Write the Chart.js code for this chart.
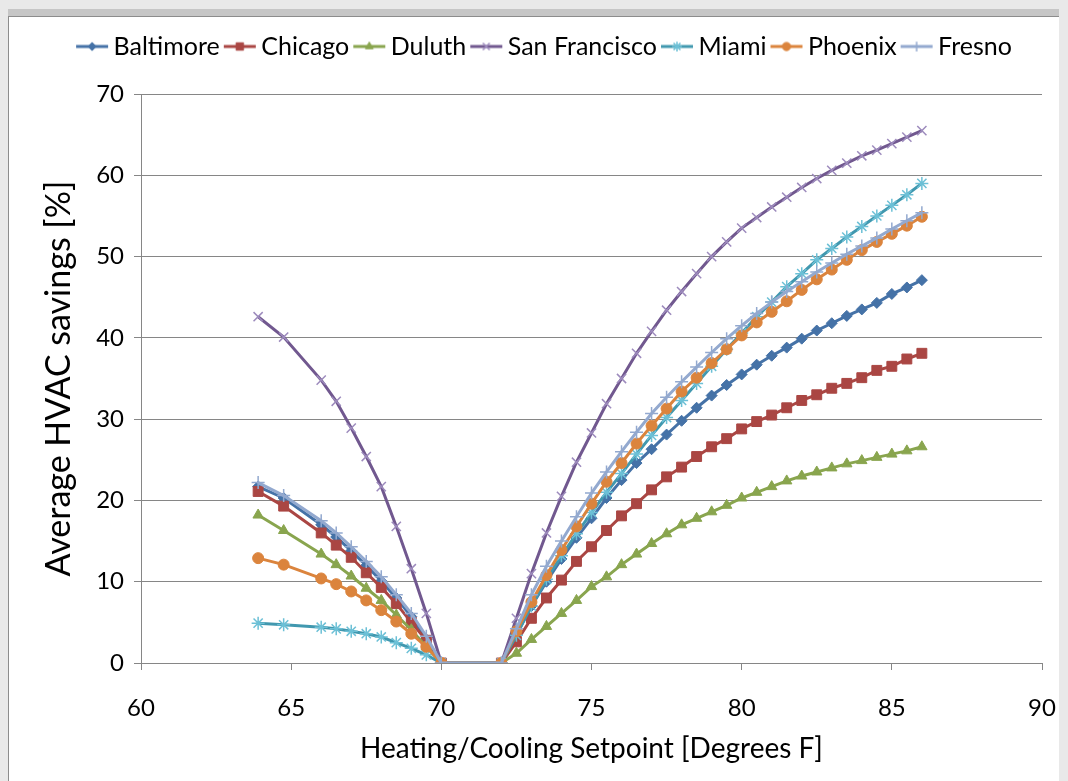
<!DOCTYPE html>
<html>
<head>
<meta charset="utf-8">
<script src="https://cdn.jsdelivr.net/npm/chart.js"></script>
<style>
  body { margin: 0; background: #e9e9e9; width: 1068px; height: 781px; overflow: hidden; }
  #panel {
    position: absolute; left: 8px; top: 16px; width: 1050px; height: 770px;
    background: #fff; border-left: 1px solid #8c8c8c; border-top: 1px solid #8c8c8c;
    box-shadow: 0 -7px 0 #c6c6c6;
  }
  #chart { display: block; }
</style>
</head>
<body>
<div id="panel"><canvas id="chart" width="1050" height="765"></canvas></div>
<script>
// setpoints (deg F) - heating side and cooling side
const heatX = [63.9, 64.75, 66, 66.5, 67, 67.5, 68, 68.5, 69, 69.5, 70];
const coolX = [72, 72.5, 73, 73.5, 74, 74.5, 75, 75.5, 76, 76.5, 77, 77.5, 78, 78.5, 79,
               79.5, 80, 80.5, 81, 81.5, 82, 82.5, 83, 83.5, 84, 84.5, 85, 85.5, 86];

const cities = ['Baltimore', 'Chicago', 'Duluth', 'San Francisco', 'Miami', 'Phoenix', 'Fresno'];

// average HVAC savings [%]
const baltimoreHeat = [21.7, 20.3, 17.0, 15.5, 13.8, 12.0, 10.1, 8.0, 5.7, 2.9, 0];
const baltimoreCool = [0, 3.5, 7.0, 10.0, 12.8, 15.4, 17.8, 20.3, 22.5, 24.6, 26.3, 28.1, 29.8, 31.4, 32.9,
                       34.2, 35.5, 36.7, 37.8, 38.8, 39.9, 40.9, 41.8, 42.7, 43.5, 44.3, 45.4, 46.2, 47.1];
const chicagoHeat = [21.1, 19.3, 16.0, 14.5, 13.0, 11.1, 9.3, 7.3, 5.0, 2.8, 0];
const chicagoCool = [0, 2.6, 5.5, 8.0, 10.2, 12.5, 14.3, 16.3, 18.1, 19.6, 21.3, 22.9, 24.1, 25.4, 26.6,
                     27.6, 28.8, 29.7, 30.5, 31.4, 32.3, 33.0, 33.8, 34.4, 35.1, 36.0, 36.5, 37.4, 38.1];
const duluthHeat = [18.2, 16.3, 13.4, 12.1, 10.7, 9.2, 7.7, 5.9, 4.1, 2.0, 0];
const duluthCool = [0, 1.2, 2.9, 4.5, 6.1, 7.7, 9.4, 10.6, 12.1, 13.4, 14.7, 15.9, 17.0, 17.8, 18.6,
                    19.4, 20.3, 21.0, 21.7, 22.4, 23.0, 23.5, 24.0, 24.5, 24.9, 25.3, 25.7, 26.1, 26.6];
const sanFranciscoHeat = [42.6, 40.1, 34.8, 32.2, 28.9, 25.4, 21.7, 16.8, 11.6, 6.1, 0];
const sanFranciscoCool = [0, 5.5, 11.0, 16.0, 20.5, 24.7, 28.3, 31.9, 35.0, 38.1, 40.8, 43.4, 45.7, 47.9, 50.0,
                          51.8, 53.5, 54.8, 56.1, 57.3, 58.5, 59.6, 60.6, 61.5, 62.4, 63.1, 63.9, 64.7, 65.5];
const miamiHeat = [4.9, 4.7, 4.4, 4.2, 3.9, 3.6, 3.2, 2.5, 1.8, 1.0, 0];
const miamiCool = [0, 3.4, 7.0, 10.3, 13.2, 15.9, 18.5, 21.0, 23.3, 25.7, 28.0, 30.2, 32.3, 34.4, 36.5,
                   38.6, 40.6, 42.6, 44.4, 46.3, 47.9, 49.6, 51.0, 52.4, 53.7, 55.0, 56.3, 57.6, 59.0];
const phoenixHeat = [12.9, 12.1, 10.4, 9.7, 8.8, 7.7, 6.5, 5.1, 3.6, 2.0, 0];
const phoenixCool = [0, 3.9, 7.5, 10.8, 13.9, 16.8, 19.6, 22.3, 24.6, 27.0, 29.2, 31.3, 33.4, 35.1, 36.9,
                     38.6, 40.3, 41.9, 43.2, 44.5, 45.9, 47.2, 48.4, 49.6, 50.8, 51.8, 52.8, 53.8, 54.9];
const fresnoHeat = [22.2, 20.6, 17.5, 16.0, 14.3, 12.5, 10.6, 8.4, 6.1, 3.3, 0];
const fresnoCool = [0, 4.2, 8.4, 11.9, 15.0, 18.0, 20.9, 23.5, 26.0, 28.4, 30.7, 32.7, 34.6, 36.4, 38.2,
                    39.9, 41.5, 43.0, 44.4, 45.7, 46.9, 48.1, 49.2, 50.3, 51.3, 52.3, 53.4, 54.4, 55.4];

const xTicks = [60, 65, 70, 75, 80, 85, 90];
const yTicks = [0, 10, 20, 30, 40, 50, 60, 70];

const FONT = 'Lato, "Open Sans", sans-serif';

// style per city: line colour, marker, marker size, marker colour
const styles = [
  { color: '#4572A7', marker: 'rectRot',  r: 5.5, mark: '#4572A7', bw: 1 },
  { color: '#AA4643', marker: 'rect',     r: 7,   mark: '#AA4643', bw: 1 },
  { color: '#89A54E', marker: 'triangle', r: 6,   mark: '#89A54E', bw: 1 },
  { color: '#71588F', marker: 'crossRot', r: 6.5, mark: '#9d8bbd', bw: 1.5 },
  { color: '#4198AF', marker: 'star',     r: 6.5, mark: '#6cc0d6', bw: 1.5 },
  { color: '#DB843D', marker: 'circle',   r: 5.5, mark: '#DB843D', bw: 1 },
  { color: '#93A9CF', marker: 'cross',    r: 6.5, mark: '#93A9CF', bw: 1.5 }
];

const heatData = [baltimoreHeat, chicagoHeat, duluthHeat, sanFranciscoHeat, miamiHeat, phoenixHeat, fresnoHeat];
const coolData = [baltimoreCool, chicagoCool, duluthCool, sanFranciscoCool, miamiCool, phoenixCool, fresnoCool];

function points(h, c) {
  const pts = heatX.map((x, i) => ({ x: x, y: h[i] }));
  return pts.concat(coolX.map((x, i) => ({ x: x, y: c[i] })));
}

// little line + marker icons for the legend
function legendIcon(s) {
  const cv = document.createElement('canvas');
  cv.width = 40; cv.height = 16;
  const ctx = cv.getContext('2d');
  ctx.strokeStyle = s.color;
  ctx.lineWidth = 3;
  ctx.beginPath(); ctx.moveTo(7, 8); ctx.lineTo(39, 8); ctx.stroke();
  if (Chart.helpers && Chart.helpers.drawPoint) {
    ctx.fillStyle = s.mark; ctx.strokeStyle = s.mark;
    ctx.lineWidth = s.bw;
    Chart.helpers.drawPoint(ctx, { pointStyle: s.marker, radius: s.r * 0.75, rotation: 0, borderWidth: s.bw }, 23, 8);
  }
  return cv;
}

const datasets = cities.map((name, i) => ({
  label: name,
  data: points(heatData[i], coolData[i]),
  borderColor: styles[i].color,
  backgroundColor: styles[i].mark,
  borderWidth: 3,
  pointStyle: styles[i].marker,
  pointRadius: styles[i].r,
  pointBorderColor: styles[i].mark,
  pointBackgroundColor: styles[i].mark,
  pointBorderWidth: styles[i].bw,
  tension: 0,
  order: cities.length - 1 - i
}));

const icons = styles.map(legendIcon);

// extra room under the legend, and nudge it right like the original
const legendGap = {
  id: 'legendGap',
  beforeInit(chart) {
    const fit = chart.legend.fit;
    chart.legend.fit = function () {
      fit.bind(chart.legend)();
      this.height += 25;
    };
  },
  afterUpdate(chart) {
    chart.legend.left += 19;
    chart.legend.right += 19;
  }
};

new Chart(document.getElementById('chart'), {
  type: 'scatter',
  data: { datasets: datasets },
  plugins: [legendGap],
  options: {
    responsive: false,
    animation: false,
    events: [],
    showLine: true,
    layout: { padding: { top: 12, right: 17, left: 0, bottom: 0 } },
    plugins: {
      tooltip: { enabled: false },
      legend: {
        position: 'top',
        labels: {
          font: { family: FONT, size: 25 },
          color: '#000',
          usePointStyle: true,
          pointStyleWidth: 24,
          padding: 5,
          generateLabels: () => cities.map((name, i) => ({
            text: name,
            pointStyle: icons[i],
            fillStyle: styles[i].color,
            strokeStyle: styles[i].color,
            lineWidth: 0,
            hidden: false,
            datasetIndex: i
          }))
        }
      }
    },
    scales: {
      x: {
        type: 'linear',
        min: 60, max: 90,
        afterBuildTicks: s => { s.ticks = xTicks.map(v => ({ value: v })); },
        afterFit: s => { s.height = 119; s.paddingLeft = 0; s.paddingRight = 0; },
        ticks: { font: { family: FONT, size: 24 }, color: '#000', padding: 24 },
        grid: { drawOnChartArea: false, color: '#868686', tickLength: 7, lineWidth: 1 },
        border: { color: '#868686', width: 1 },
        title: { display: true, text: 'Heating/Cooling Setpoint [Degrees F]', color: '#000',
                 font: { family: FONT, size: 28 }, padding: { top: 6, bottom: 16 } }
      },
      y: {
        type: 'linear',
        min: 0, max: 70,
        afterBuildTicks: s => { s.ticks = yTicks.map(v => ({ value: v })); },
        afterFit: s => { s.width = 132; },
        ticks: { font: { family: FONT, size: 24 }, color: '#000', padding: 10 },
        grid: { color: '#868686', tickLength: 7, lineWidth: 1 },
        border: { color: '#868686', width: 1 },
        title: { display: true, text: 'Average HVAC savings [%]', color: '#000',
                 font: { family: FONT, size: 34 }, padding: { top: 30, bottom: 4 } }
      }
    }
  }
});
</script>
</body>
</html>
